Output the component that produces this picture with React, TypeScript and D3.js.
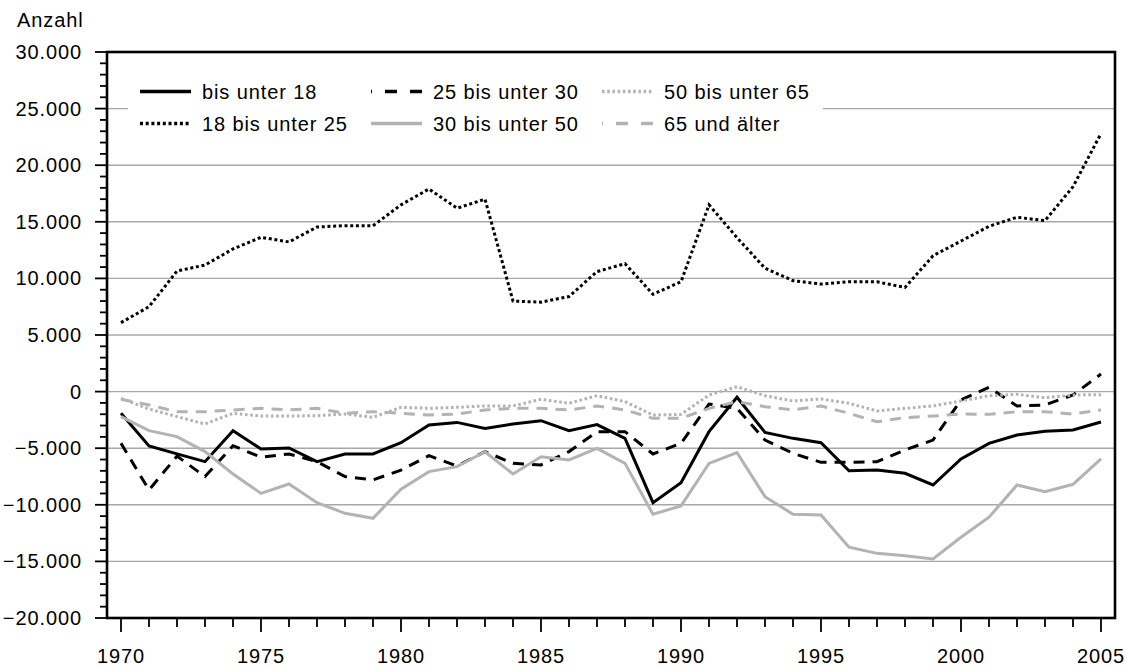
import React from "react";
import * as d3 from "d3";

const years = d3.range(1970, 2006);

const bisUnter18 = [-1920, -4800, -5500, -6190, -3450, -5070, -4980, -6190, -5510, -5510, -4510, -2950, -2720, -3250, -2860, -2570, -3450, -2920, -4130, -9810, -8050, -3540, -500, -3600, -4130, -4510, -6990, -6930, -7220, -8250, -5950, -4570, -3830, -3510, -3390, -2690];
const b18bis25 = [6090, 7500, 10650, 11180, 12600, 13630, 13220, 14540, 14660, 14650, 16500, 17900, 16200, 17000, 8000, 7900, 8400, 10600, 11300, 8600, 9700, 16500, 13600, 10900, 9800, 9500, 9700, 9700, 9200, 12000, 13300, 14600, 15400, 15100, 18100, 22800];
const b25bis30 = [-4570, -8690, -5700, -7510, -4780, -5800, -5510, -6190, -7510, -7800, -6930, -5660, -6570, -5300, -6340, -6480, -5300, -3540, -3540, -5510, -4570, -1100, -1480, -4280, -5450, -6250, -6250, -6190, -5160, -4280, -740, 380, -1270, -1180, -300, 1550];
const b30bis50 = [-2210, -3450, -3980, -5300, -7280, -8990, -8160, -9810, -10750, -11190, -8630, -7070, -6630, -5310, -7280, -5750, -6040, -5010, -6340, -10840, -10100, -6340, -5390, -9280, -10840, -10900, -13750, -14290, -14500, -14790, -12870, -11100, -8250, -8840, -8190, -5950];
const b50bis65 = [-590, -1540, -2210, -2860, -1920, -2160, -2160, -2130, -1980, -2270, -1390, -1480, -1390, -1270, -1270, -680, -1030, -360, -890, -2070, -2010, -300, 430, -360, -830, -650, -1030, -1710, -1480, -1270, -830, -360, -240, -540, -300, -270];
const ab65 = [-680, -1180, -1770, -1770, -1620, -1480, -1620, -1480, -1920, -1770, -1920, -2070, -1980, -1620, -1480, -1480, -1620, -1270, -1620, -2360, -2360, -1480, -890, -1330, -1620, -1270, -1920, -2660, -2300, -2160, -1980, -2010, -1770, -1770, -1980, -1620];

const seriesNames = ["bis unter 18", "18 bis unter 25", "25 bis unter 30", "30 bis unter 50", "50 bis unter 65", "65 und älter"];
const seriesValues = [bisUnter18, b18bis25, b25bis30, b30bis50, b50bis65, ab65];
const yTicks = d3.range(-20000, 30001, 5000);
const xTickYears = [1970, 1975, 1980, 1985, 1990, 1995, 2000, 2005];

const GREY = "#b3b3b3";
const styles = [
  { color: "#000", width: 3, dash: null },
  { color: "#000", width: 3, dash: "3,2.7" },
  { color: "#000", width: 3, dash: "11,8" },
  { color: GREY, width: 3, dash: null },
  { color: GREY, width: 3, dash: "2.6,2.6" },
  { color: GREY, width: 3, dash: "11,8" },
];

const FONT = "'Liberation Sans', Arial, sans-serif";

export default function App() {
  const W = 1127, H = 666;
  const left = 107, right = 1115, top = 52, bottom = 618;
  const x = d3.scaleLinear().domain([1969.5, 2005.5]).range([left, right]);
  const y = d3.scaleLinear().domain([-20000, 30000]).range([bottom, top]);
  const line = d3.line<number>().x((_, i) => x(years[i])).y((d) => y(d));
  const fmt = (v: number) => d3.format(",")(v).replace(/,/g, ".");
  const minorY = d3.range(-20000, 30001, 1000);

  const legendCols = [140, 371, 602];
  const legendRows = [91.5, 123.5];
  const legendItems = seriesNames.map((name, i) => ({
    name,
    col: Math.floor(i / 2),
    row: i % 2,
    style: styles[i],
  }));

  const textStyle = { fontFamily: FONT, fontSize: 20, letterSpacing: "0.9px" } as const;

  return (
    <svg width={W} height={H} style={{ position: "absolute", left: 0, top: 0, background: "#fff" }}>
      <rect x={0} y={0} width={W} height={H} fill="#fff" />
      {/* gridlines */}
      {yTicks.map((t) => (
        <line key={"g" + t} x1={left} x2={right} y1={y(t)} y2={y(t)} stroke="#a8a8a8" strokeWidth={1.4} />
      ))}
      {/* legend background */}
      <rect x={128} y={66} width={695} height={82} fill="#fff" />
      {/* series */}
      {seriesValues.map((vals, i) => (
        <path
          key={"s" + i}
          d={line(vals) || ""}
          fill="none"
          stroke={styles[i].color}
          strokeWidth={styles[i].width}
          strokeDasharray={styles[i].dash || undefined}
          strokeLinejoin="miter"
        />
      ))}
      {/* frame */}
      <rect x={left} y={top} width={right - left} height={bottom - top} fill="none" stroke="#000" strokeWidth={2.6} />
      {/* y ticks */}
      {minorY.map((t) => (
        <line key={"yt" + t} x1={t % 5000 === 0 ? 95 : 100} x2={left} y1={y(t)} y2={y(t)} stroke="#000" strokeWidth={1.8} />
      ))}
      {yTicks.map((t) => (
        <text key={"yl" + t} x={82} y={y(t)} dy="0.35em" textAnchor="end" {...textStyle}>
          {fmt(t)}
        </text>
      ))}
      {/* x ticks */}
      {years.map((yr) => (
        <line key={"xt" + yr} x1={x(yr)} x2={x(yr)} y1={bottom} y2={yr % 5 === 0 ? 632 : 627} stroke="#000" strokeWidth={1.8} />
      ))}
      {xTickYears.map((yr) => (
        <text key={"xl" + yr} x={x(yr)} y={663} textAnchor="middle" {...textStyle}>
          {yr}
        </text>
      ))}
      <text x={17} y={27} {...textStyle}>Anzahl</text>
      {/* legend */}
      {legendItems.map((it) => {
        const lx = legendCols[it.col];
        const ly = legendRows[it.row];
        return (
          <g key={"lg" + it.name}>
            <line
              x1={lx}
              x2={lx + 51}
              y1={ly}
              y2={ly}
              stroke={it.style.color}
              strokeWidth={it.style.width + 0.5}
              strokeDasharray={it.style.dash ? (it.style.dash === "11,8" ? "12,13" : it.style.dash) : undefined}
              strokeDashoffset={it.style.dash === "11,8" ? 11 : 0}
            />
            <text x={lx + 62} y={ly + 7.5} {...textStyle}>
              {it.name}
            </text>
          </g>
        );
      })}
    </svg>
  );
}
